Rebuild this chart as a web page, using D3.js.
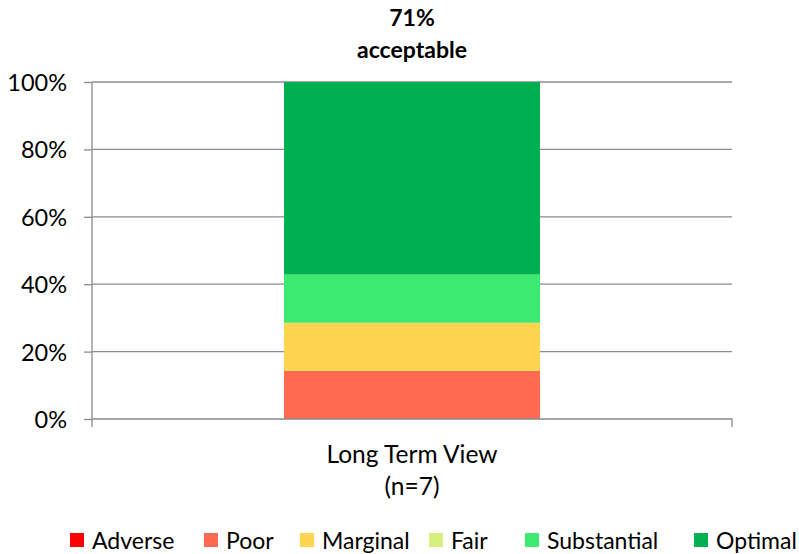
<!DOCTYPE html>
<html>
<head>
<meta charset="utf-8">
<script src="https://cdn.jsdelivr.net/npm/d3@7"></script>
<style>
  body { margin: 0; background: #fff; }
  svg { display: block; font-family: "Lato", "Open Sans", sans-serif; }
</style>
</head>
<body>
<svg id="chart" width="799" height="554"></svg>
<script>
// Rating categories, counts per category (n=7), and colours
const ratings = ["Adverse", "Poor", "Marginal", "Fair", "Substantial", "Optimal"];
const counts = [0, 1, 1, 0, 1, 4];
const colors = ["#FF0000", "#FF6A50", "#FFD44F", "#D4F07F", "#3BEA6E", "#00B050"];
const categories = ["Long Term View"];
const sampleLabels = ["(n=7)"];
const yTicks = [0, 0.2, 0.4, 0.6, 0.8, 1.0];
const acceptableLabel = ["71%", "acceptable"];

const FONT = "Lato, 'Open Sans', sans-serif";
const svg = d3.select("#chart");
const margin = { left: 92, right: 67, top: 82, bottom: 135 };
const W = 799, H = 554;
const plotW = W - margin.left - margin.right;
const plotH = H - margin.top - margin.bottom;

const g = svg.append("g").attr("transform", `translate(${margin.left},${margin.top})`);

const x = d3.scaleBand().domain(categories).range([0, plotW]).paddingInner(0).paddingOuter(0.75);
const y = d3.scaleLinear().domain([0, 1]).range([plotH, 0]);

// Gridlines
g.append("g")
  .selectAll("line")
  .data(yTicks.filter(t => t > 0))
  .join("line")
  .attr("x1", 0).attr("x2", plotW)
  .attr("y1", d => y(d)).attr("y2", d => y(d))
  .attr("stroke", "#8c8c8c").attr("stroke-width", 1.3);

// Stacked shares
const total = d3.sum(counts);
let acc = 0;
const stackData = ratings.map((r, i) => {
  const v = counts[i] / total;
  const s = { rating: r, y0: acc, y1: acc + v, color: colors[i] };
  acc += v;
  return s;
});

g.append("g")
  .selectAll("rect")
  .data(stackData.filter(d => d.y1 > d.y0))
  .join("rect")
  .attr("x", x(categories[0]))
  .attr("width", x.bandwidth())
  .attr("y", d => y(d.y1))
  .attr("height", d => y(d.y0) - y(d.y1))
  .attr("fill", d => d.color);

// Y axis
const yAxis = d3.axisLeft(y).tickValues(yTicks).tickFormat(d3.format(".0%")).tickSize(8).tickPadding(17);
const ya = g.append("g").call(yAxis);
ya.attr("font-family", FONT).attr("font-size", 23.5);
ya.select(".domain").attr("stroke", "#8c8c8c").attr("stroke-width", 1.3).attr("d", `M0,${plotH + 8}V0`);
ya.selectAll(".tick line").attr("stroke", "#8c8c8c").attr("stroke-width", 1.3);
ya.selectAll(".tick text").attr("fill", "#000").attr("dy", "0.36em");

// X axis baseline with end tick
const xa = g.append("g").attr("transform", `translate(0,${plotH})`);
xa.append("path")
  .attr("d", `M0,0H${plotW}V8`)
  .attr("fill", "none").attr("stroke", "#8c8c8c").attr("stroke-width", 1.3);

// Category label
const cx = x(categories[0]) + x.bandwidth() / 2;
xa.append("text").attr("x", cx).attr("y", 44).attr("text-anchor", "middle")
  .attr("font-family", FONT).attr("font-size", 24.5).text(categories[0]);
xa.append("text").attr("x", cx).attr("y", 76).attr("text-anchor", "middle")
  .attr("font-family", FONT).attr("font-size", 24.5).text(sampleLabels[0]);

// Acceptable share annotation above bar
svg.append("text").attr("x", margin.left + cx).attr("y", 26).attr("text-anchor", "middle")
  .attr("font-family", FONT).attr("font-size", 23).attr("font-weight", "bold").text(acceptableLabel[0]);
svg.append("text").attr("x", margin.left + cx).attr("y", 58).attr("text-anchor", "middle")
  .attr("font-family", FONT).attr("font-size", 23).attr("font-weight", "bold").text(acceptableLabel[1]);

// Legend
const legendX = [70, 204, 300, 429, 525, 694];
const legend = svg.append("g").attr("transform", "translate(0,533)");
const items = legend.selectAll("g").data(ratings).join("g")
  .attr("transform", (d, i) => `translate(${legendX[i]},0)`);
items.append("rect").attr("width", 14).attr("height", 14).attr("fill", (d, i) => colors[i]);
items.append("text").attr("x", 22).attr("y", 15.5)
  .attr("font-family", FONT).attr("font-size", 23).text(d => d);
</script>
</body>
</html>
